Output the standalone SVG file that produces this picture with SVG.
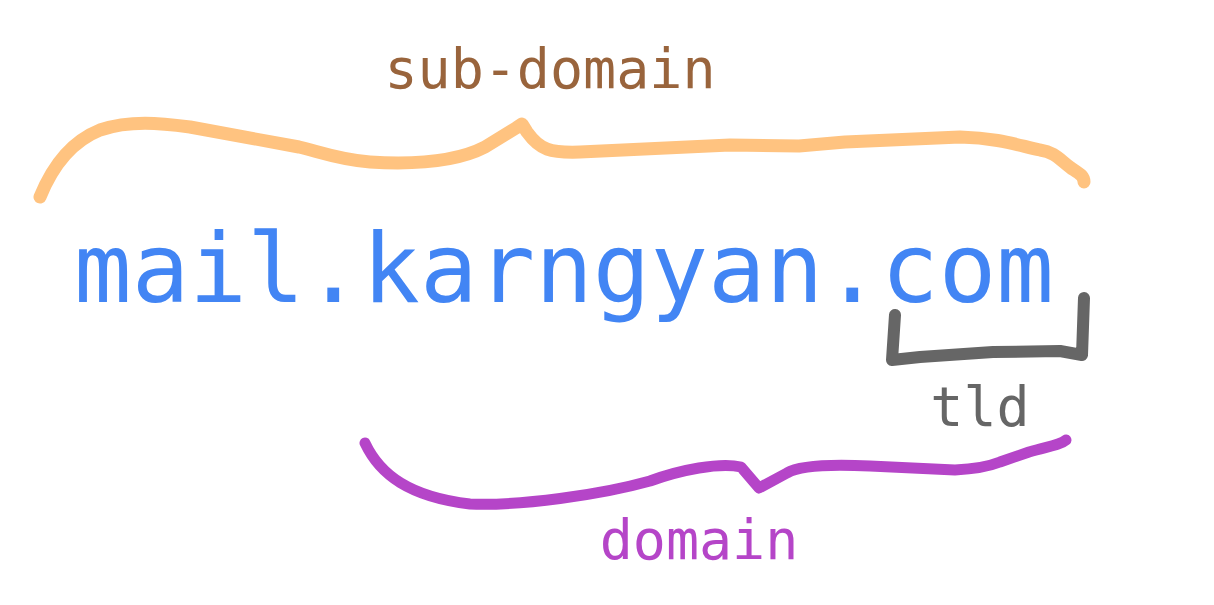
<svg xmlns="http://www.w3.org/2000/svg" width="1214" height="605" viewBox="0 0 1214 605">
<style>
.t{font-family:"DejaVu Sans Mono","Liberation Mono",monospace;}
.br{fill:none;stroke-linecap:round;stroke-linejoin:round;}
</style>
<rect width="1214" height="605" fill="#ffffff"/>
<g id="connectors">
<path class="br" stroke="#ffc380" stroke-width="13" d="M40,197 C55,160 75,140 100,130 C130,120 160,123 190,127 L299,147 C320,152 340,160 370,162 C420,165 460,160 485,147 L516,128 L522,124 L527,132 C540,150 550,153 580,152 L730,145 L799,146 L845,142 L960,137 C1000,138 1020,146 1040,150 C1055,152 1060,160 1071,168 C1080,174 1084,176 1084,182"/>
<path class="br" stroke="#666666" stroke-width="12" d="M895,315 L892,360 L920,357 L993,352 L1060,351 L1082,355 L1084,298"/>
<path class="br" stroke="#b545c8" stroke-width="11" d="M365,443 C380,475 410,497 470,504 C520,506 600,495 650,481 C680,470 720,462 741,467 L759,488 L787,473 C800,465 830,464 870,466 L955,470 C975,469 990,466 1000,462 L1029,452 C1050,446 1060,445 1066,440"/>
</g>
<g id="url">
<text class="t" x="74" y="302" font-size="96" fill="#4285f4" textLength="980" lengthAdjust="spacingAndGlyphs">mail.karngyan.com</text>
</g>
<g id="subdomain">
<text class="t" x="550" y="88" font-size="55" fill="#99643c" text-anchor="middle">sub-domain</text>
</g>
<g id="tld">
<text class="t" x="980" y="426" font-size="55" fill="#666666" text-anchor="middle">tld</text>
</g>
<g id="domain">
<text class="t" x="699" y="559" font-size="55" fill="#b545c8" text-anchor="middle">domain</text>
</g>
</svg>
